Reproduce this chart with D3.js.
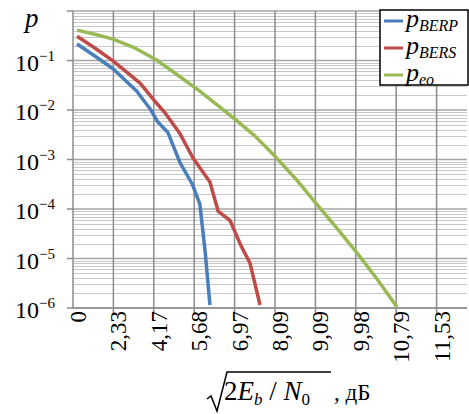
<html>
<head>
<script src="https://d3js.org/d3.v7.min.js" charset="utf-8"></script>
<style>
  body { margin: 0; background: #fff; }
</style>
</head>
<body>
<script>
    // Size of the whole picture and of the plot area inside it
    var chartWidth = 469;
    var chartHeight = 414;
    var plotLeft = 73, plotTop = 11, plotRight = 467, plotBottom = 308;
    var serif = "'Liberation Serif', Tinos, 'DejaVu Serif', serif";

    // Category axis: one label per gridline
    var xTickLabels = ["0", "2,33", "4,17", "5,68", "6,97", "8,09", "9,09", "9,98", "10,79", "11,53"];
    var yDecades = [-6, -5, -4, -3, -2, -1, 0];

    // Series (x is the position along the category axis, 0 = first label)
    var berpX = [0.1, 0.54, 0.99, 1.58, 1.91, 2.10, 2.35, 2.65, 2.95, 3.14, 3.27, 3.39];
    var berpP = [0.215, 0.123, 0.068, 0.024, 0.0105, 0.0057, 0.0035, 8.6e-4, 3.2e-4, 1.26e-4, 1.4e-5, 1.15e-6];

    var bersX = [0.1, 0.54, 0.99, 1.66, 2.03, 2.28, 2.65, 2.97, 3.39, 3.59, 3.89, 4.16, 4.38, 4.63];
    var bersP = [0.31, 0.179, 0.098, 0.035, 0.015, 0.0087, 0.0033, 0.00107, 3.5e-4, 9.1e-5, 5.8e-5, 1.8e-5, 8.1e-6, 1.15e-6];

    var eoX = [0.1, 0.54, 0.99, 1.53, 2.03, 2.52, 3.14, 4.0, 4.5, 5.02, 5.52, 6.01, 6.51, 7.03, 7.52, 8.02];
    var eoP = [0.41, 0.34, 0.27, 0.179, 0.107, 0.056, 0.024, 0.0066, 0.003, 0.00112, 4.0e-4, 1.32e-4, 4.3e-5, 1.3e-5, 3.9e-6, 1.05e-6];

    var seriesNames = ["BERP", "BERS", "eo"];
    var seriesColors = ["#4a7ebb", "#be4b48", "#98b954"];

    var svg = d3.select("body").append("svg")
        .attr("width", chartWidth)
        .attr("height", chartHeight)
        .attr("font-family", serif);

    var x = d3.scaleLinear().domain([0, (plotRight - plotLeft) / 40.4]).range([plotLeft, plotRight]);
    var y = d3.scaleLog().domain([1e-6, 1]).range([plotBottom, plotTop]);

    // horizontal gridlines: 1..9 in every decade
    var minorValues = [];
    yDecades.slice(0, -1).forEach(function (d) {
        for (var m = 2; m <= 9; m++) minorValues.push(m * Math.pow(10, d));
    });
    svg.append("g").selectAll("line").data(minorValues).enter().append("line")
        .attr("x1", plotLeft).attr("x2", plotRight)
        .attr("y1", function (d) { return Math.round(y(d)) + 0.5; })
        .attr("y2", function (d) { return Math.round(y(d)) + 0.5; })
        .attr("stroke", "#c8c8c8").attr("stroke-width", 1);
    svg.append("g").selectAll("line").data(yDecades).enter().append("line")
        .attr("x1", plotLeft).attr("x2", plotRight)
        .attr("y1", function (d) { return y(Math.pow(10, d)); })
        .attr("y2", function (d) { return y(Math.pow(10, d)); })
        .attr("stroke", "#a6a6a6").attr("stroke-width", 1.5);

    // vertical gridlines at the categories
    var xTicks = d3.range(xTickLabels.length);
    svg.append("g").selectAll("line").data(xTicks.slice(1)).enter().append("line")
        .attr("x1", function (d) { return x(d); }).attr("x2", function (d) { return x(d); })
        .attr("y1", plotTop).attr("y2", plotBottom + 5)
        .attr("stroke", "#8c8c8c").attr("stroke-width", 1.5);

    // axis lines
    svg.append("line").attr("x1", plotLeft).attr("x2", plotLeft).attr("y1", plotTop).attr("y2", plotBottom)
        .attr("stroke", "#8c8c8c").attr("stroke-width", 1.5);
    svg.append("line").attr("x1", plotLeft).attr("x2", plotRight).attr("y1", plotBottom).attr("y2", plotBottom)
        .attr("stroke", "#8c8c8c").attr("stroke-width", 1.5);
    svg.append("g").selectAll("line").data(yDecades).enter().append("line")
        .attr("x1", plotLeft - 6).attr("x2", plotLeft)
        .attr("y1", function (d) { return y(Math.pow(10, d)); })
        .attr("y2", function (d) { return y(Math.pow(10, d)); })
        .attr("stroke", "#8c8c8c").attr("stroke-width", 1.5);

    // y tick labels 10^k
    var yLab = svg.append("g").selectAll("text").data(yDecades.slice(0, -1)).enter().append("text")
        .attr("x", 55)
        .attr("y", function (d) { return y(Math.pow(10, d)) + 10; })
        .attr("text-anchor", "end")
        .attr("font-size", 24);
    yLab.append("tspan").text("10");
    yLab.append("tspan").attr("dy", -10).attr("font-size", 15)
        .text(function (d) { return "\u2212" + (-d); });

    // x tick labels, rotated
    svg.append("g").selectAll("text").data(xTicks).enter().append("text")
        .attr("transform", function (d) { return "translate(" + (x(d) + 5) + "," + (plotBottom + 3) + ") rotate(-90)"; })
        .attr("text-anchor", "end")
        .attr("dy", "0.35em")
        .attr("font-size", 23)
        .text(function (d) { return xTickLabels[d]; });

    // lines
    var plot = svg.append("g");
    svg.append("clipPath").attr("id", "plotClip").append("rect")
        .attr("x", plotLeft).attr("y", plotTop)
        .attr("width", plotRight - plotLeft).attr("height", plotBottom - plotTop);
    var line = d3.line().x(function (d) { return x(d[0]); }).y(function (d) { return y(d[1]); });
    [[berpX, berpP], [bersX, bersP], [eoX, eoP]].forEach(function (s, i) {
        plot.append("path")
            .attr("d", line(d3.zip(s[0], s[1])))
            .attr("clip-path", "url(#plotClip)")
            .attr("fill", "none")
            .attr("stroke", seriesColors[i])
            .attr("stroke-width", 3.5)
            .attr("stroke-linejoin", "round");
    });

    // y axis label
    svg.append("text").attr("x", 25).attr("y", 27)
        .attr("font-size", 27).attr("font-style", "italic").text("p");

    // legend
    var legend = svg.append("g");
    legend.append("rect").attr("x", 380).attr("y", 10).attr("width", 88).attr("height", 75)
        .attr("fill", "#fff").attr("stroke", "#000").attr("stroke-width", 1.5);
    seriesNames.forEach(function (name, i) {
        var ly = 21 + i * 27;
        legend.append("line").attr("x1", 384).attr("x2", 403).attr("y1", ly).attr("y2", ly)
            .attr("stroke", seriesColors[i]).attr("stroke-width", 3);
        var t = legend.append("text").attr("x", 406).attr("y", ly + 6)
            .attr("font-style", "italic").attr("font-size", 26);
        t.append("tspan").text("p");
        t.append("tspan").attr("dy", 4).attr("font-size", 16).text(name);
    });

    // x axis title: sqrt(2E_b / N_0) , дБ
    var title = svg.append("g");
    title.append("path")
        .attr("d", "M207,399 L211,396 L217,411 L227,372 L331,372")
        .attr("fill", "none").attr("stroke", "#000").attr("stroke-width", 1.5);
    var tt = title.append("text").attr("x", 224).attr("y", 400).attr("font-size", 27);
    tt.append("tspan").text("2");
    tt.append("tspan").attr("font-style", "italic").text("E");
    tt.append("tspan").attr("dy", 5).attr("font-size", 17).attr("font-style", "italic").text("b");
    tt.append("tspan").attr("dy", -5).text(" / ");
    tt.append("tspan").attr("font-style", "italic").text("N");
    tt.append("tspan").attr("dy", 5).attr("font-size", 17).text("0");
    svg.append("text").attr("x", 334).attr("y", 400).attr("font-size", 23).text(", дБ");
</script>
</body>
</html>
